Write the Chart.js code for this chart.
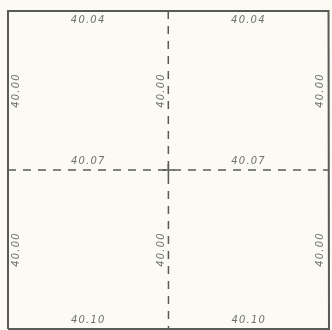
<!DOCTYPE html>
<html>
<head>
<meta charset="utf-8">
<script src="https://cdn.jsdelivr.net/npm/chart.js@4"></script>
<style>
html,body{margin:0;padding:0;background:#fbfbf4;}
canvas{display:block;}
</style>
</head>
<body>
<canvas id="c" width="332" height="330"></canvas>
<script>
// Segment lengths read from the plat (west segment, east segment)
const northLine = [40.04, 40.04];
const midLine = [40.07, 40.07];
const southLine = [40.10, 40.10];
// Segment lengths (north segment, south segment)
const westLine = [40.00, 40.00];
const centerLine = [40.00, 40.00];
const eastLine = [40.00, 40.00];

const sum = a => a[0] + a[1];
const yMid = westLine[1];
const yTop = sum(westLine);
const xMax = Math.max(sum(northLine), sum(midLine), sum(southLine));

const outer = [
  {x: 0, y: 0}, {x: 0, y: yTop}, {x: sum(northLine), y: yTop},
  {x: sum(southLine), y: 0}, {x: 0, y: 0}
];
const hMid = [{x: 0, y: yMid}, {x: sum(midLine), y: yMid}];
const vMid = [{x: northLine[0], y: yTop}, {x: midLine[0], y: yMid}, {x: southLine[0], y: 0}];

const ink = '#5a5a56';
const textInk = '#70706b';

const labelPlugin = {
  id: 'platLabels',
  afterDatasetsDraw(chart) {
    const ctx = chart.ctx;
    const xs = chart.scales.x, ys = chart.scales.y;
    ctx.save();
    ctx.fillStyle = textInk;
    ctx.font = 'italic 10px "DejaVu Sans"';
    ctx.letterSpacing = '1.2px';
    ctx.textAlign = 'center';
    ctx.textBaseline = 'middle';
    const fmt = v => v.toFixed(2);
    // horizontal labels
    const rows = [[northLine, yTop, 9], [midLine, yMid, -9], [southLine, 0, -9]];
    rows.forEach(([arr, yv, off]) => {
      let x0 = 0;
      arr.forEach(v => {
        const px = xs.getPixelForValue(x0 + v / 2);
        const py = ys.getPixelForValue(yv) + off;
        ctx.fillText(fmt(v), px, py);
        x0 += v;
      });
    });
    // vertical labels
    const cols = [
      [westLine, () => 0, 8],
      [centerLine, (y) => y > yMid ? (northLine[0] + midLine[0]) / 2 : (midLine[0] + southLine[0]) / 2, -7],
      [eastLine, (y) => y > yMid ? (sum(northLine) + sum(midLine)) / 2 : (sum(midLine) + sum(southLine)) / 2, -8]
    ];
    cols.forEach(([arr, xf, off]) => {
      let yTopSeg = yTop;
      arr.forEach(v => {
        const yc = yTopSeg - v / 2;
        const px = xs.getPixelForValue(xf(yc)) + off;
        const py = ys.getPixelForValue(yc);
        ctx.save();
        ctx.translate(px, py);
        ctx.rotate(-Math.PI / 2);
        ctx.fillText(fmt(v), 0, 0);
        ctx.restore();
        yTopSeg -= v;
      });
    });
    // small solid cross at the centre corner
    const cx = xs.getPixelForValue(midLine[0]);
    const cy = ys.getPixelForValue(yMid);
    ctx.strokeStyle = ink;
    ctx.lineWidth = 1.5;
    ctx.beginPath();
    ctx.moveTo(cx - 6, cy); ctx.lineTo(cx + 6, cy);
    ctx.moveTo(cx, cy - 6); ctx.lineTo(cx, cy + 6);
    ctx.stroke();
    ctx.restore();
  }
};

new Chart(document.getElementById('c'), {
  type: 'scatter',
  data: {
    datasets: [
      {data: outer, showLine: true, borderColor: ink, borderWidth: 2, pointRadius: 0, clip: false, tension: 0},
      {data: hMid, showLine: true, borderColor: ink, borderWidth: 1.5, borderDash: [8, 7], pointRadius: 0, clip: false},
      {data: vMid, showLine: true, borderColor: ink, borderWidth: 1.5, borderDash: [8, 7], pointRadius: 0, clip: false}
    ]
  },
  options: {
    responsive: false,
    animation: false,
    layout: {padding: {left: 8, right: 3, top: 11, bottom: 1}},
    plugins: {legend: {display: false}, tooltip: {enabled: false}},
    scales: {
      x: {type: 'linear', min: 0, max: xMax, display: false},
      y: {type: 'linear', min: 0, max: yTop, display: false}
    }
  },
  plugins: [labelPlugin]
});
</script>
</body>
</html>
